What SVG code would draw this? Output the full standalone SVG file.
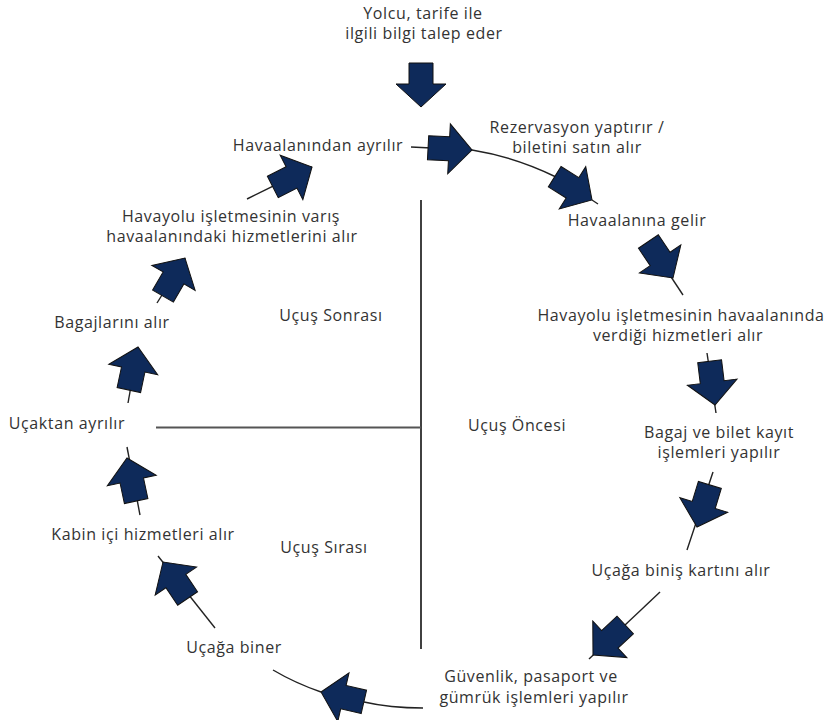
<svg xmlns="http://www.w3.org/2000/svg" xmlns:xlink="http://www.w3.org/1999/xlink" width="827" height="720" viewBox="0 0 827 720">
<style>
text{font-family:"Open Sans","Noto Sans",sans-serif;font-size:16px;letter-spacing:0.6px;fill:#333;text-anchor:middle}
.ln{fill:none;stroke:#222;stroke-width:1.4}
.ax{fill:none;stroke:#111;stroke-width:1.6}
.ar{fill:#0e2a5a;stroke:#111;stroke-width:1}
</style>
<defs>
<polygon id="arr" class="ar" points="-44,-12 -23,-12 -23,-25 0,0 -23,25 -23,12 -44,12"/>
</defs>
<rect width="827" height="720" fill="#fff"/>
<g id="axes">
<line class="ax" x1="421" y1="200" x2="421" y2="649"/>
<line x1="156" y1="427.5" x2="421" y2="427.5" stroke="#555" stroke-width="2"/>
</g>
<g id="connectors">
<line class="ln" x1="411" y1="147" x2="472" y2="150"/>
<path class="ln" d="M472,150 Q515,157 556,177"/>
<line class="ln" x1="592" y1="200" x2="598" y2="204"/>
<line class="ln" x1="648" y1="242" x2="683" y2="295"/>
<line class="ln" x1="707" y1="353" x2="716" y2="413"/>
<line class="ln" x1="713" y1="472" x2="687" y2="550"/>
<line class="ln" x1="660" y1="592" x2="589" y2="659"/>
<path class="ln" d="M423,708 Q390,708 364,702"/>
<path class="ln" d="M321,692 Q295,683 273,670"/>
<line class="ln" x1="215" y1="628" x2="158" y2="556"/>
<line class="ln" x1="140" y1="515" x2="127" y2="447"/>
<line class="ln" x1="128" y1="403" x2="138" y2="347"/>
<line class="ln" x1="157" y1="303" x2="185" y2="258"/>
<line class="ln" x1="247" y1="199" x2="312" y2="167"/>
</g>
<g id="arrows">
<use xlink:href="#arr" transform="translate(421,107) rotate(90)"/>
<use xlink:href="#arr" transform="translate(472,150) rotate(3)"/>
<use xlink:href="#arr" transform="translate(592,200) rotate(32)"/>
<use xlink:href="#arr" transform="translate(673,278) rotate(56)"/>
<use xlink:href="#arr" transform="translate(715,405) rotate(83)"/>
<use xlink:href="#arr" transform="translate(697,527) rotate(107)"/>
<use xlink:href="#arr" transform="translate(593,655) rotate(137)"/>
<use xlink:href="#arr" transform="translate(321,692) rotate(193)"/>
<use xlink:href="#arr" transform="translate(163,562) rotate(236)"/>
<use xlink:href="#arr" transform="translate(127,458) rotate(258)"/>
<use xlink:href="#arr" transform="translate(138,347) rotate(282)"/>
<use xlink:href="#arr" transform="translate(185,258) rotate(300)"/>
<use xlink:href="#arr" transform="translate(312,167) rotate(333)"/>
</g>
<g id="n-start"><text x="423" y="19">Yolcu, tarife ile</text><text x="424" y="39">ilgili bilgi talep eder</text></g>
<g id="n-rez"><text x="577" y="133">Rezervasyon yaptırır /</text><text x="577" y="153">biletini satın alır</text></g>
<g id="n-gelir"><text x="637" y="226">Havaalanına gelir</text></g>
<g id="n-hizmet"><text x="681" y="321">Havayolu işletmesinin havaalanında</text><text x="678" y="341">verdiği hizmetleri alır</text></g>
<g id="n-bagaj"><text x="719" y="438">Bagaj ve bilet kayıt</text><text x="719" y="458">işlemleri yapılır</text></g>
<g id="n-kart"><text x="681" y="576">Uçağa biniş kartını alır</text></g>
<g id="n-guvenlik"><text x="531" y="682">Güvenlik, pasaport ve</text><text x="534" y="703">gümrük işlemleri yapılır</text></g>
<g id="n-biner"><text x="234" y="653">Uçağa biner</text></g>
<g id="n-kabin"><text x="143" y="540">Kabin içi hizmetleri alır</text></g>
<g id="n-ucaktan"><text x="67" y="429">Uçaktan ayrılır</text></g>
<g id="n-bagajlar"><text x="112" y="328">Bagajlarını alır</text></g>
<g id="n-varis"><text x="231" y="222">Havayolu işletmesinin varış</text><text x="232" y="242">havaalanındaki hizmetlerini alır</text></g>
<g id="n-ayrilir"><text x="318" y="151">Havaalanından ayrılır</text></g>
<g id="phases"><text x="331" y="321">Uçuş Sonrası</text><text x="517" y="431">Uçuş Öncesi</text><text x="324" y="553">Uçuş Sırası</text></g>
</svg>
